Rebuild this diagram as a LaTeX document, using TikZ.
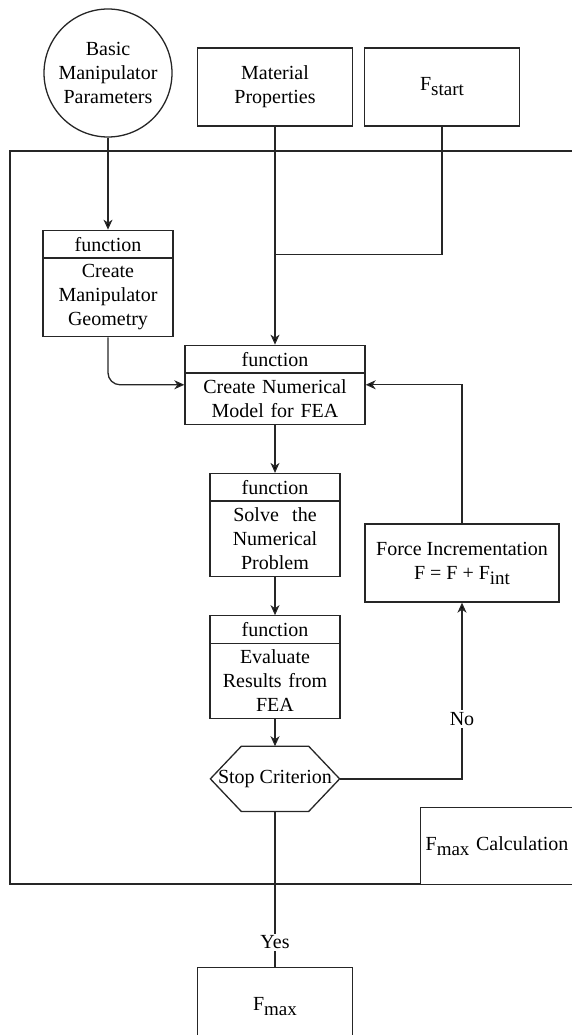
\documentclass[tikz,border=0pt]{standalone}
\usepackage{fontspec}
\setmainfont{Liberation Serif}
\usetikzlibrary{shapes.multipart,arrows.meta,positioning}
\tikzstyle{inblock} = [rectangle, draw, fill=white, 
    minimum width=155pt, minimum height=78pt, align=center]
\tikzstyle{param} = [circle, draw, fill=white, 
    minimum size=128pt, inner sep=0pt, align=center]
\tikzstyle{func} = [rectangle split, rectangle split parts=2, draw, fill=white,
    inner xsep=0pt, inner ysep=6pt, align=center]
\tikzstyle{decision} = [rectangle, minimum width=128pt, minimum height=64pt,
    inner sep=0pt]
\tikzstyle{calc} = [rectangle, draw, fill=white, text width=150pt,
    inner xsep=5pt, minimum height=77pt, align=left]
\tikzstyle{line} = [draw, -{Stealth[length=10pt,width=9pt,inset=3pt]}]
\tikzstyle{link} = [draw]
\tikzstyle{tag} = [fill=white, inner sep=2pt]
\newcommand{\Fsub}[1]{F\raisebox{-5pt}{\fontsize{19}{19}\selectfont #1}}

\begin{document}
\begin{tikzpicture}[x=1pt, y=1pt, line width=1.3pt, draw=black!85,
    font=\fontsize{20}{24}\selectfont]
\useasboundingbox (0,0) rectangle (572,-1035);
\clip (0,0) rectangle (572,-1035);
    % Frame
\draw (10,-151) rectangle (580,-884);
    % Place nodes
\node [param] (param) at (108,-73) {Basic\\Manipulator\\Parameters};
\node [inblock] (mat) at (275,-87) {Material\\Properties};
\node [inblock] (fst) at (442,-87) {\Fsub{start}};
\node [func, text width=130pt, below=92pt of param] (geo)
    {function \nodepart{two} Create\\Manipulator\\Geometry};
\node [func, text width=180pt, below=218pt of mat] (num)
    {function \nodepart{two} Create Numerical\\Model for FEA};
\node [func, text width=130pt, below=48pt of num] (sol)
    {function \nodepart{two} Solve\ \ the\\Numerical\\Problem};
\node [func, text width=130pt, below=38pt of sol] (eva)
    {function \nodepart{two} Evaluate\\Results from\\FEA};
\node [decision, below=27pt of eva] (stop) {Stop Criterion};
\draw (stop.west) -- ([xshift=31pt]stop.north west)
    -- ([xshift=-31pt]stop.north east) -- (stop.east)
    -- ([xshift=-31pt]stop.south east) -- ([xshift=31pt]stop.south west) -- cycle;
\node [inblock, minimum width=194pt] (force) at (462,-563)
    {Force Incrementation\\F = F + \Fsub{int}};
\node [inblock, below=155pt of stop] (fmax) {\Fsub{max}};
\node [calc, anchor=north west] (fcalc) at (420,-807) {\Fsub{max} Calculation};
\coordinate [below=128pt of mat.south] (join);

    % Draw edges
\path [line] (param) -- (geo);
\path [line] (mat) -- (num);
\path [link] (fst) |- (join);
\path [line, rounded corners=12pt] (geo) |- (num);
\path [line] (num) -- (sol);
\path [line] (sol) -- (eva);
\path [line] (eva) -- (stop);
\path [line] (stop) -| node [tag, pos=0.67] {No} (force);
\path [line] (force) |- (num);
\path [link] (stop) -- node [tag, pos=0.845] {Yes} (fmax);
\end{tikzpicture}
\end{document}
